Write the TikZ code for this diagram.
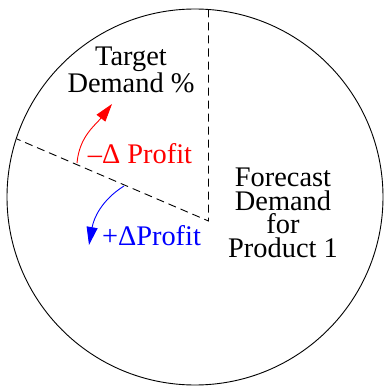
\documentclass[tikz,border=0pt]{standalone}
\usepackage{fontspec}
\setmainfont{Liberation Serif}
\usetikzlibrary{arrows.meta, calc}
\definecolor{lossred}{HTML}{FF0000}
\definecolor{gainblue}{HTML}{0000FF}

\begin{document}
\begin{tikzpicture}[
    x=1bp, y=1bp,
    rim/.style={draw=black, line width=0.9bp},
    split/.style={draw=black, line width=0.9bp, dash pattern=on 8bp off 5bp},
    lbl/.style={font=\fontsize{28.5}{23.5}\selectfont, align=center, inner sep=0pt},
    arr/.style={-{Triangle[length=18bp, width=11bp]}, line width=0.9bp},
]
\useasboundingbox (0,0) rectangle (384,387);

% Circle and the two dashed radii
\coordinate (centre) at (195,190);
\coordinate (corner) at (208.5,166);
\coordinate (topend) at (208.5,377.5);
\coordinate (leftend) at (17,248);
\draw[rim] (centre) circle[radius=188];
\draw[split] (topend) -- (corner) -- (leftend);

% Labels (base = baseline of the last line)
\node[lbl, anchor=base] (target) at (131,295) {Target\\Demand \%};
\node[lbl, anchor=base] (forecast) at (283,130) {Forecast\\Demand\\for\\Product 1};
\node[lbl, anchor=base, text=lossred] (minus) at (140,224) {–Δ Profit};
\node[lbl, anchor=base, text=gainblue] (plus) at (151.5,142) {+ΔProfit};

% Arrows off the dashed line
\coordinate (redfrom) at (77,224);
\coordinate (redto) at (112,283);
\coordinate (bluefrom) at (124,201);
\coordinate (blueto) at (89,142);
\draw[arr, lossred] (redfrom) to[out=85, in=-128] (redto);
\draw[arr, gainblue] (bluefrom) to[out=-148, in=80] (blueto);

\end{tikzpicture}
\end{document}
